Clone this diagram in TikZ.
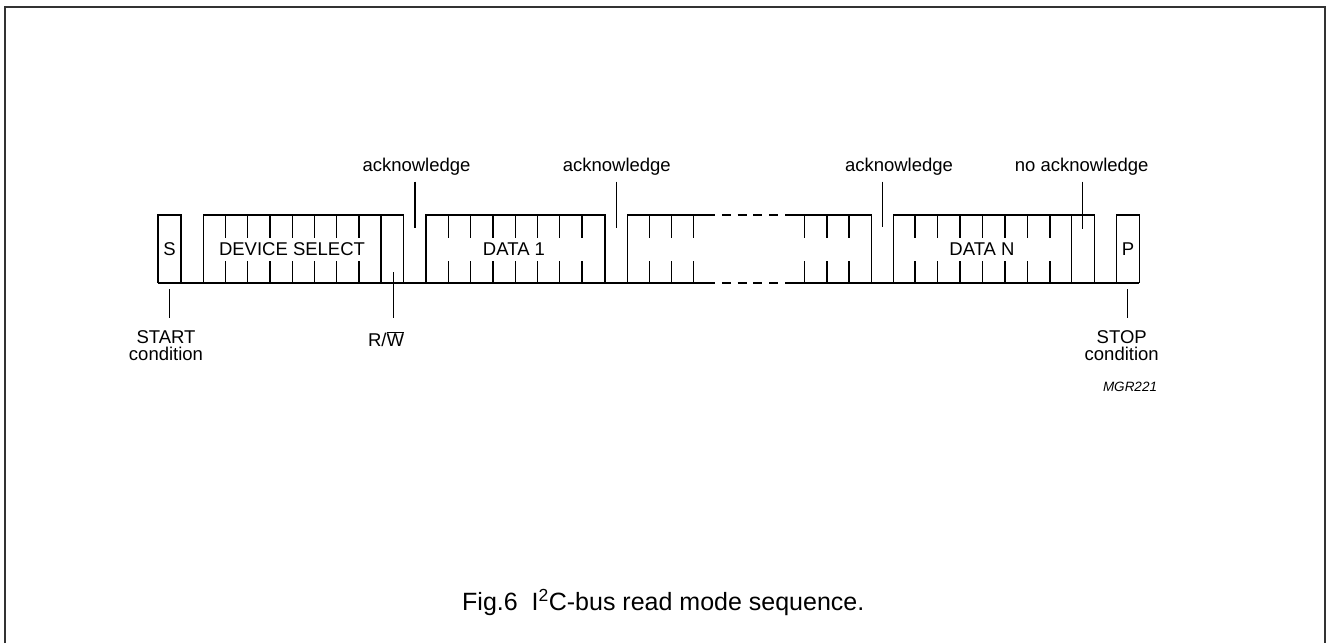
\documentclass[tikz,border=0pt]{standalone}
\usepackage{fontspec}
\setmainfont{Liberation Sans}
\begin{document}
\begin{tikzpicture}[x=1pt,y=-1pt,
  sig/.style={line width=1.3pt, line join=miter},
  tick/.style={line width=1.2pt},
  ptr/.style={line width=1.1pt},
  lbl/.style={font=\fontsize{18.5}{17}\selectfont, inner sep=0pt, anchor=base, align=center},
  boxtxt/.style={font=\fontsize{18.5}{20}\selectfont, inner sep=0pt},
  frame/.style={line width=2pt, black!80}]
\useasboundingbox (0,0) rectangle (1326,643);
\draw[frame] (4.5,643) -- (4.5,7) -- (1325,7) -- (1325,643);

% waveform, first part
\draw[sig] (158,283) |- (181,215) |- (203.3,283) |- (403.3,215) |- (426,283) |- (605,215) |- (627.7,283) |- (715,215);
\draw[sig] (158,283) -- (715,283);
\draw[sig] (381,215) -- (381,283);
% dashed middle
\foreach \x in {721.8,737.6,753.4,769.2}{
  \draw[sig] (\x,215) -- ++(9,0);
  \draw[sig] (\x,283) -- ++(9,0);
}
% waveform, second part
\draw[sig] (785,215) -- (871.7,215) |- (893.3,283) |- (1094.3,215) |- (1116.7,283) |- (1139.3,215) -- (1139.3,283);
\draw[sig] (785,283) -- (1139.3,283);
\draw[sig] (1071.7,215) -- (1071.7,283);

% bit ticks
\foreach \x in {225.7,247.7,270,292.3,314.3,336.7,359,
                448.7,470.7,493,515.3,537.3,559.7,582,
                649.3,671.7,693.7,804.7,827,849,
                915,937.7,960,982.7,1005,1027.3,1050}{
  \draw[tick] (\x,215) -- (\x,238);
  \draw[tick] (\x,261) -- (\x,283);
}

% texts inside boxes
\node[boxtxt] (s) at (169.5,249) {S};
\node[boxtxt] (dev) at (292,249) {DEVICE SELECT};
\node[boxtxt] (d1) at (514,249) {DATA 1};
\node[boxtxt] (dn) at (982,249) {DATA N};
\node[boxtxt] (p) at (1128,249) {P};

% labels
\node[lbl] (ack1) at (416.5,171.5) {acknowledge};
\node[lbl] (ack2) at (616.8,171.5) {acknowledge};
\node[lbl] (ack3) at (899,171.5) {acknowledge};
\node[lbl] (nack) at (1081.7,171.5) {no acknowledge};
\node[lbl] (start) at (166,360) {START\\condition};
\node[lbl] (rw) at (386,346.7) {R/$\overline{\hbox{W}}$};
\node[lbl] (stop) at (1121.7,360.7) {STOP\\condition};
\node[font=\fontsize{13.5}{15}\selectfont\itshape, inner sep=0pt, anchor=base] (mgr) at (1130,391.5) {MGR221};
\node[font=\fontsize{25}{28}\selectfont, inner sep=0pt, anchor=base west] (cap) at (462,610.7) {Fig.6\ \ I\textsuperscript{2}C-bus read mode sequence.};

% pointer end points
\coordinate (a1t) at (415,181.7);   \coordinate (a1b) at (415,228);
\coordinate (a2t) at (616.7,181.7); \coordinate (a2b) at (616.7,227.5);
\coordinate (a3t) at (882.7,181.7); \coordinate (a3b) at (882.7,227);
\coordinate (nat) at (1082.7,181.7);\coordinate (nab) at (1082.7,229);
\coordinate (rwt) at (393.3,272);   \coordinate (rwb) at (393.3,318);
\coordinate (stt) at (169.3,289);   \coordinate (stb) at (169.3,318);
\coordinate (spt) at (1127.5,289);  \coordinate (spb) at (1127.5,318);
\draw[ptr] (a1t) -- (a1b);
\draw[ptr] (a2t) -- (a2b);
\draw[ptr] (a3t) -- (a3b);
\draw[ptr] (nat) -- (nab);
\draw[ptr] (rwt) -- (rwb);
\draw[ptr] (stt) -- (stb);
\draw[ptr] (spt) -- (spb);
\end{tikzpicture}
\end{document}
